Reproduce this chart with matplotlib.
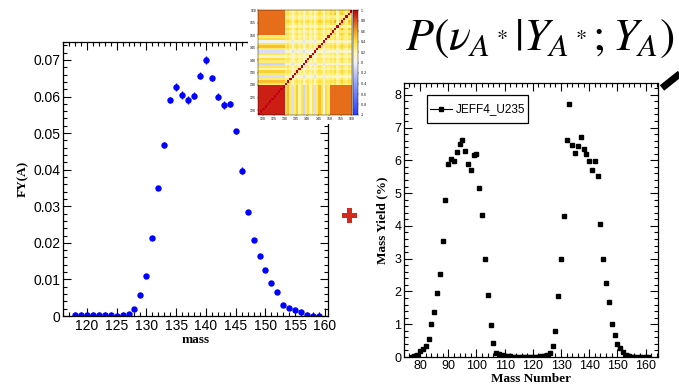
import numpy as np
import matplotlib
matplotlib.use('Agg')
import matplotlib.pyplot as plt
from matplotlib.colors import LinearSegmentedColormap
from matplotlib.patches import Rectangle
from matplotlib.lines import Line2D
from matplotlib.ticker import MultipleLocator, FuncFormatter

plt.rcParams['font.family'] = 'Liberation Sans'
plt.rcParams['mathtext.fontset'] = 'stix'

# left panel: fission yield FY(A) vs mass
mass_left = list(range(118, 160))
fy_left = [0.0002, 0.0002, 0.0002, 0.0002, 0.0002, 0.0002, 0.0002, 0.0001, 0.0002, 0.0005,
           0.0018, 0.0058, 0.0108, 0.0214, 0.0350, 0.0467, 0.0590, 0.0627, 0.0604, 0.0590,
           0.0602, 0.0657, 0.0699, 0.0651, 0.0600, 0.0577, 0.0579, 0.0505, 0.0397, 0.0285,
           0.0209, 0.0165, 0.0126, 0.0091, 0.0065, 0.0030, 0.0021, 0.0016, 0.0010, 0.0003,
           0.0001, 0.0001]
fy_err = [0.0002, 0.0002, 0.0002, 0.0002, 0.0002, 0.0002, 0.0002, 0.0002, 0.0002, 0.0002,
          0.0003, 0.0004, 0.0004, 0.0005, 0.0006, 0.0008, 0.0008, 0.0011, 0.0010, 0.0011,
          0.0010, 0.0010, 0.0011, 0.0008, 0.0009, 0.0010, 0.0009, 0.0007, 0.0009, 0.0006,
          0.0005, 0.0005, 0.0004, 0.0004, 0.0004, 0.0003, 0.0003, 0.0003, 0.0003, 0.0002,
          0.0002, 0.0002]

# right panel: JEFF4 U235 mass yields (%)
mass_right = list(range(77, 162))
yield_right = [0.00, 0.02, 0.06, 0.17, 0.23, 0.33, 0.55, 1.00, 1.38, 1.96,
               2.53, 3.55, 4.80, 5.90, 6.03, 5.97, 6.27, 6.50, 6.62, 6.30,
               5.90, 5.72, 6.15, 6.18, 5.15, 4.33, 3.00, 1.90, 0.97, 0.43,
               0.12, 0.10, 0.05, 0.03, 0.02, 0.02, 0.01, 0.01, 0.01, 0.01,
               0.01, 0.01, 0.01, 0.01, 0.01, 0.01, 0.02, 0.03, 0.05, 0.12,
               0.35, 0.80, 1.85, 2.98, 4.30, 6.62, 7.72, 6.47, 6.22, 6.45,
               6.72, 6.35, 6.18, 5.98, 5.70, 5.97, 5.52, 4.07, 2.98, 2.25,
               1.68, 1.02, 0.66, 0.41, 0.26, 0.15, 0.07, 0.03, 0.01, 0.00,
               0.00, 0.00, 0.00, 0.00, 0.00]

# correlation matrix inset (masses 118..159), built from block levels
n_low, n_mid, n_high = 12, 20, 10
low_low = 0.92
low_high = 0.72
mid_stripe = [0.35, 0.50, 0.30, -0.10, 0.30, 0.45, 0.20, 0.35, -0.15, 0.30,
              0.40, 0.10, 0.35, -0.10, 0.30, 0.50, 0.35, 0.00, 0.40, 0.30]
high_stripe = [0.45, 0.30, 0.55, 0.20, 0.40, 0.60, 0.35, 0.25, 0.50, 0.40]

nn = n_low + n_mid + n_high
corr = np.zeros((nn, nn))
lo = slice(0, n_low)
mi = slice(n_low, n_low + n_mid)
hi = slice(n_low + n_mid, nn)
ms = np.array(mid_stripe)
hs = np.array(high_stripe)
corr[lo, lo] = low_low
corr[lo, hi] = low_high
corr[hi, lo] = low_high
corr[mi, lo] = ms[:, None]
corr[lo, mi] = ms[None, :]
corr[mi, mi] = 0.8 * 0.5 * (ms[:, None] + ms[None, :])
corr[mi, hi] = 0.8 * 0.5 * (ms[:, None] + hs[None, :])
corr[hi, mi] = corr[mi, hi].T
corr[hi, hi] = np.minimum(hs[:, None], hs[None, :])
np.fill_diagonal(corr, 1.0)

W, H = 679, 390
fig = plt.figure(figsize=(W / 100, H / 100), dpi=100)


def rect(x0, y0, x1, y1):
    return [x0 / W, 1 - y1 / H, (x1 - x0) / W, (y1 - y0) / H]


def style_axes(ax, size):
    ax.tick_params(which='both', direction='in', top=True, right=True, labelsize=size, pad=2)
    ax.tick_params(which='major', length=6, width=0.8)
    ax.tick_params(which='minor', length=3, width=0.8)
    for s in ax.spines.values():
        s.set_linewidth(0.9)


serif = {'family': 'Liberation Serif', 'weight': 'bold', 'size': 9.5}

# ---- left plot
ax1 = fig.add_axes(rect(63, 42, 328, 316))
ax1.errorbar(mass_left, fy_left, yerr=fy_err, fmt='o', ms=3.6, color='#0000ff',
             ecolor='#0000ff', elinewidth=1, capsize=0)
ax1.set_xlim(116, 160.5)
ax1.set_ylim(0, 0.0749)
ax1.xaxis.set_major_locator(MultipleLocator(5))
ax1.xaxis.set_minor_locator(MultipleLocator(1))
ax1.yaxis.set_major_locator(MultipleLocator(0.01))
ax1.yaxis.set_minor_locator(MultipleLocator(0.002))
ax1.yaxis.set_major_formatter(FuncFormatter(lambda v, p: '0' if abs(v) < 1e-9 else '%g' % round(v, 3)))
style_axes(ax1, 10)
ax1.set_xlabel('mass', fontdict=serif, labelpad=1)
ax1.set_ylabel('FY(A)', fontdict=serif, labelpad=3)

# ---- inset correlation matrix
bg = fig.add_axes(rect(248, 0, 372, 124))
bg.set_facecolor('white')
bg.set_xticks([])
bg.set_yticks([])
for s in bg.spines.values():
    s.set_visible(False)

cmap = LinearSegmentedColormap.from_list('rootpal', [
    (0.0, '#2a3cff'), (0.3, '#8fa0ff'), (0.5, '#f2f2f2'), (0.6, '#fff7a8'),
    (0.7, '#ffe040'), (0.8, '#f2a21e'), (0.9, '#e0501a'), (1.0, '#c00010')])
axm = fig.add_axes(rect(258.3, 10, 351.7, 115))
im = axm.imshow(corr, origin='lower', cmap=cmap, vmin=-1, vmax=1,
                extent=(118, 160, 118, 160), aspect='auto', interpolation='nearest')
axm.set_xticks(range(120, 161, 5))
axm.set_yticks(range(120, 161, 5))
axm.tick_params(labelsize=2.5, length=1, width=0.3, pad=0.5)
for s in axm.spines.values():
    s.set_linewidth(0.3)
cax = fig.add_axes(rect(352.7, 10, 358.3, 115))
cb = fig.colorbar(im, cax=cax, ticks=np.arange(-1, 1.01, 0.2))
cb.ax.set_yticklabels(['-1', '-0.8', '-0.6', '-0.4', '-0.2', '0', '0.2', '0.4', '0.6', '0.8', '1'])
cb.ax.tick_params(labelsize=2.5, length=1, width=0.3, pad=0.5)
cb.outline.set_linewidth(0.3)

# ---- red plus
red = '#d42a1e'
fig.add_artist(Rectangle((341.5 / W, 1 - 218 / H), 15 / W, 5.5 / H,
                         transform=fig.transFigure, color=red, lw=0))
fig.add_artist(Rectangle((346.5 / W, 1 - 223 / H), 5.5 / W, 15.5 / H,
                         transform=fig.transFigure, color=red, lw=0))

# ---- right plot
ax2 = fig.add_axes(rect(404, 83, 658, 357))
ax2.plot(mass_right, yield_right, 's', ms=3.0, color='black')
ax2.set_xlim(74.3, 164.4)
ax2.set_ylim(0, 8.36)
ax2.xaxis.set_major_locator(MultipleLocator(10))
ax2.xaxis.set_minor_locator(MultipleLocator(2))
ax2.yaxis.set_major_locator(MultipleLocator(1))
ax2.yaxis.set_minor_locator(MultipleLocator(0.2))
style_axes(ax2, 9)
ax2.set_xlabel('Mass Number', fontdict=serif, labelpad=1)
ax2.set_ylabel('Mass Yield (%)', fontdict=serif, labelpad=4)

# legend box drawn by hand to match the ROOT layout
fig.add_artist(Rectangle((427 / W, 1 - 123 / H), 101 / W, 28 / H, transform=fig.transFigure,
                         facecolor='white', edgecolor='black', lw=0.9, zorder=5))
fig.add_artist(Line2D([430 / W, 452 / W], [1 - 109 / H, 1 - 109 / H], color='black', lw=0.8,
                      transform=fig.transFigure, zorder=6))
fig.add_artist(Line2D([441 / W], [1 - 109 / H], color='black', marker='s', ms=3.0, lw=0,
                      transform=fig.transFigure, zorder=6))
fig.text(456 / W, 1 - 109 / H, 'JEFF4_U235', fontsize=8.5, ha='left', va='center', zorder=6)

# ---- formula and arrow
fig.text(405 / W, 1 - 50 / H, r'$P(\nu_{A^*}|Y_{A^*};Y_A)$', fontsize=33,
         ha='left', va='baseline')
fig.add_artist(Line2D([662 / W, 692 / W], [1 - 88 / H, 1 - 64 / H], lw=5,
                      color='black', solid_capstyle='butt', transform=fig.transFigure))

fig.savefig('out.png', dpi=100)
